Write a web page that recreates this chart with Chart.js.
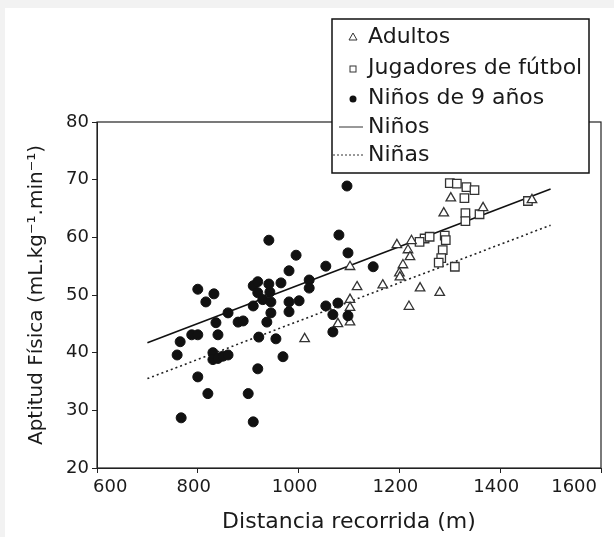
<!DOCTYPE html>
<html>
<head>
<meta charset="utf-8">
<script src="https://cdn.jsdelivr.net/npm/chart.js@4.4.0/dist/chart.umd.min.js"></script>
<style>
  html, body { margin: 0; padding: 0; background: #f2f2f2; }
  #wrap { position: absolute; left: 5px; top: 8px; width: 609px; height: 529px; background: #fff; }
  canvas { display: block; }
</style>
</head>
<body>
<div id="wrap"><canvas id="chart" width="609" height="529"></canvas></div>
<script>
// Niños de 9 años (filled circles)
const kidsX = [941, 995, 981, 1054, 1080, 800, 832, 816, 910, 919, 941, 965, 919, 943, 1021, 1021, 929, 945, 981, 1001,
  910, 1054, 1078, 860, 945, 981, 1068, 836, 880, 890, 937, 765, 788, 800, 840, 921, 955, 1068, 759, 830,
  830, 840, 850, 860, 969, 919, 800, 820, 900, 767, 910, 1098, 1096, 1148, 1098];
const kidsY = [59.5, 56.9, 54.2, 55.0, 60.4, 51.0, 50.2, 48.8, 51.6, 52.3, 51.9, 52.1, 50.4, 50.5, 52.6, 51.2, 49.2, 48.8, 48.8, 49.0,
  48.1, 48.1, 48.6, 46.9, 46.9, 47.1, 46.6, 45.2, 45.3, 45.5, 45.3, 41.9, 43.1, 43.1, 43.1, 42.7, 42.4, 43.6, 39.6, 40.0,
  38.8, 39.0, 39.4, 39.6, 39.3, 37.2, 35.8, 32.9, 32.9, 28.7, 28.0, 57.3, 68.9, 54.9, 46.4];

// Adultos (triangles)
const adultX = [1302, 1288, 1195, 1224, 1217, 1221, 1207, 1200, 1201, 1102, 1116, 1167, 1241, 1280, 1219, 1102, 1102, 1078, 1102, 1012, 1463, 1366];
const adultY = [66.8, 64.2, 58.7, 59.4, 57.8, 56.6, 55.2, 53.8, 53.1, 54.9, 51.4, 51.7, 51.2, 50.4, 48.0, 49.2, 47.8, 45.0, 45.3, 42.4, 66.5, 65.1];

// Jugadores de fútbol (squares)
const footX = [1300, 1314, 1333, 1349, 1329, 1331, 1331, 1359, 1455, 1290, 1292, 1286, 1283, 1278, 1310, 1250, 1260, 1240];
const footY = [69.4, 69.3, 68.7, 68.2, 66.8, 64.2, 62.8, 64.0, 66.3, 60.3, 59.5, 57.8, 56.4, 55.6, 54.9, 59.8, 60.1, 59.2];

// regression lines
const boysLineX = [700, 1500];
const boysLineY = [41.7, 68.4];
const girlsLineX = [700, 1500];
const girlsLineY = [35.5, 62.1];

const xTicks = [600, 800, 1000, 1200, 1400, 1600];
const yTicks = [20, 30, 40, 50, 60, 70, 80];

const legendItems = ['Adultos', 'Jugadores de fútbol', 'Niños de 9 años', 'Niños', 'Niñas'];

const pts = (xs, ys) => xs.map((x, i) => ({ x: x, y: ys[i] }));
const FONT = 'DejaVu Sans';
const INK = '#1a1a1a';

// legend box drawn over the plot, like the original figure
const legendBox = {
  id: 'legendBox',
  afterDraw(chart) {
    const c = chart.ctx;
    const x0 = 327, y0 = 11, w = 257, h = 154;
    c.save();
    c.fillStyle = '#fff';
    c.fillRect(x0, y0, w, h);
    c.strokeStyle = '#111';
    c.lineWidth = 1.5;
    c.strokeRect(x0, y0, w, h);
    c.font = '22px ' + FONT;
    c.fillStyle = INK;
    c.textBaseline = 'middle';
    const rows = [29, 60, 90, 119, 147];
    legendItems.forEach((t, i) => c.fillText(t, 363, rows[i]));
    c.strokeStyle = '#333';
    c.lineWidth = 1;
    // triangle
    c.beginPath();
    c.moveTo(348, rows[0] - 4); c.lineTo(352, rows[0] + 3); c.lineTo(344, rows[0] + 3); c.closePath();
    c.stroke();
    // square
    c.strokeRect(345, rows[1] - 2, 6, 6);
    // dot
    c.fillStyle = '#111';
    c.beginPath(); c.arc(348, rows[2] + 1, 3.5, 0, Math.PI * 2); c.fill();
    // solid line
    c.beginPath(); c.moveTo(334, rows[3]); c.lineTo(358, rows[3]); c.stroke();
    // dotted line
    c.setLineDash([2, 2]);
    c.beginPath(); c.moveTo(328, rows[4]); c.lineTo(358, rows[4]); c.stroke();
    c.restore();
  }
};

// frame round the plot area
const frame = {
  id: 'frame',
  beforeDatasetsDraw(chart) {
    const a = chart.chartArea, c = chart.ctx;
    c.save();
    c.strokeStyle = '#222';
    c.lineWidth = 1.2;
    c.strokeRect(a.left, a.top, a.right - a.left, a.bottom - a.top);
    c.restore();
  }
};

new Chart(document.getElementById('chart').getContext('2d'), {
  type: 'scatter',
  data: {
    datasets: [
      {
        label: 'Niños de 9 años',
        data: pts(kidsX, kidsY),
        pointStyle: 'circle',
        pointRadius: 5,
        backgroundColor: '#111',
        borderColor: '#111',
        borderWidth: 1
      },
      {
        label: 'Adultos',
        data: pts(adultX, adultY),
        pointStyle: 'triangle',
        pointRadius: 5.5,
        backgroundColor: '#fff',
        borderColor: '#333',
        borderWidth: 1.3
      },
      {
        label: 'Jugadores de fútbol',
        data: pts(footX, footY),
        pointStyle: 'rect',
        pointRadius: 6,
        backgroundColor: '#fff',
        borderColor: '#333',
        borderWidth: 1.3
      },
      {
        type: 'line',
        label: 'Niños',
        data: pts(boysLineX, boysLineY),
        borderColor: '#111',
        borderWidth: 1.6,
        pointRadius: 0,
        fill: false
      },
      {
        type: 'line',
        label: 'Niñas',
        data: pts(girlsLineX, girlsLineY),
        borderColor: '#222',
        borderWidth: 1.6,
        borderDash: [2, 3],
        pointRadius: 0,
        fill: false
      }
    ]
  },
  options: {
    responsive: false,
    animation: false,
    layout: { padding: { left: 20, top: 114, right: 13, bottom: 0 } },
    plugins: {
      legend: { display: false },
      tooltip: { enabled: false }
    },
    scales: {
      x: {
        type: 'linear',
        min: 600,
        max: 1600,
        afterBuildTicks: s => { s.ticks = xTicks.map(v => ({ value: v })); },
        afterFit: s => { s.height = 69; },
        grid: { drawOnChartArea: false, color: '#222', tickLength: 5 },
        border: { color: '#222' },
        ticks: {
          color: INK,
          font: { family: FONT, size: 18 },
          padding: 4,
          align: 'inner',
          labelOffset: -4,
          callback: v => String(v)
        },
        title: {
          display: true,
          text: 'Distancia recorrida (m)',
          color: INK,
          font: { family: FONT, size: 22 },
          padding: { top: 0, bottom: 2 }
        }
      },
      y: {
        min: 20,
        max: 80,
        afterBuildTicks: s => { s.ticks = yTicks.map(v => ({ value: v })); },
        afterFit: s => { s.width = 72; },
        grid: { drawOnChartArea: false, color: '#222', tickLength: 5 },
        border: { color: '#222' },
        ticks: { color: INK, font: { family: FONT, size: 18 }, padding: 3, callback: v => String(v) },
        title: {
          display: true,
          text: 'Aptitud Física (mL.kg⁻¹.min⁻¹)',
          color: INK,
          font: { family: FONT, size: 20 },
          padding: { top: 0, bottom: 4 }
        }
      }
    }
  },
  plugins: [frame, legendBox]
});
</script>
</body>
</html>
